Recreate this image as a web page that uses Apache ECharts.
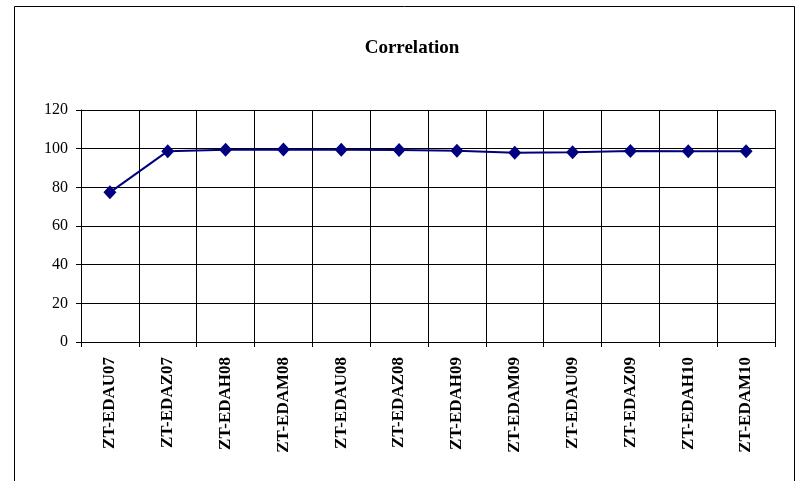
<!DOCTYPE html>
<html>
<head>
<meta charset="utf-8">
<script src="https://cdn.jsdelivr.net/npm/echarts@6/dist/echarts.min.js"></script>
<style>html,body{margin:0;padding:0;background:#fff}#c{width:800px;height:481px}</style>
</head>
<body>
<div id="c"></div>
<script>
const categories = ['ZT-EDAU07','ZT-EDAZ07','ZT-EDAH08','ZT-EDAM08','ZT-EDAU08','ZT-EDAZ08','ZT-EDAH09','ZT-EDAM09','ZT-EDAU09','ZT-EDAZ09','ZT-EDAH10','ZT-EDAM10'];
const correlation = [77.4, 98.7, 99.4, 99.6, 99.4, 99.3, 98.9, 97.9, 98.1, 98.8, 98.6, 98.6];
const titleText = 'Correlation';

const chart = echarts.init(document.getElementById('c'), null, {renderer: 'canvas'});
chart.setOption({
  animation: false,
  backgroundColor: '#fff',
  title: {
    text: titleText,
    left: 407, top: 34, textAlign: 'center',
    textStyle: {fontFamily: 'Liberation Serif', fontWeight: 'bold', fontSize: 19, color: '#000'}
  },
  graphic: [{
    type: 'rect', silent: true,
    shape: {x: 14.5, y: 6.5, width: 780, height: 520},
    style: {fill: 'none', stroke: '#000', lineWidth: 1}
  }],
  grid: {left: 81, right: 25, top: 110, bottom: 139},
  xAxis: {
    type: 'category',
    data: categories,
    boundaryGap: true,
    axisLine: {lineStyle: {color: '#000', width: 1}},
    axisTick: {show: true, length: 5, lineStyle: {color: '#000'}},
    splitLine: {show: true, lineStyle: {color: '#000', width: 1}},
    axisLabel: {rotate: 90, margin: 15, color: '#000', fontFamily: 'Liberation Serif', fontWeight: 'bold', fontSize: 17, interval: 0}
  },
  yAxis: {
    type: 'value', min: 0, max: 120, interval: 20,
    axisLine: {show: true, lineStyle: {color: '#000', width: 1}},
    axisTick: {show: true, length: 5, lineStyle: {color: '#000'}},
    splitLine: {show: true, lineStyle: {color: '#000', width: 1}},
    axisLabel: {margin: 13, color: '#000', fontFamily: 'Liberation Serif', fontSize: 16}
  },
  series: [{
    type: 'line',
    data: correlation,
    symbol: 'diamond',
    symbolSize: [13, 14],
    lineStyle: {color: '#000080', width: 2},
    itemStyle: {color: '#000080'}
  }]
});
</script>
</body>
</html>
